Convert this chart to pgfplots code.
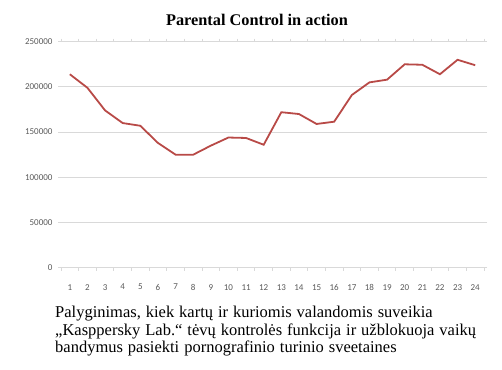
\documentclass[border=0pt]{standalone}
\usepackage{fontspec}
\setmainfont{Liberation Serif}
\newfontfamily\tickfont{Carlito}
\usepackage{pgfplots}
\pgfplotsset{compat=1.18}
\definecolor{linered}{HTML}{B84A47}
\definecolor{gridgray}{HTML}{D9D9D9}
\definecolor{ticktext}{HTML}{595959}
\newcommand\capfont{\fontsize{16.5bp}{17.5bp}\selectfont\spaceskip=0.3em\relax}
\begin{document}
\begin{tikzpicture}
\path[use as bounding box] (0,0) rectangle (502bp,370bp);
\begin{axis}[
  at={(61bp,102.3bp)}, anchor=south west,
  scale only axis, width=423bp, height=226bp,
  xmin=0.5, xmax=24.5, ymin=0, ymax=250000,
  xtick={1,...,24},
  minor xtick={0.5,1.5,...,24.5},
  ytick={0,50000,...,250000},
  scaled y ticks=false,
  /pgf/number format/assume math mode=true,
  yticklabel={\pgfmathprintnumber[fixed,1000 sep={}]{\tick}},
  tick label style={font=\tickfont\fontsize{9bp}{10bp}\selectfont, text=ticktext},
  axis line style={draw=none},
  ymajorgrids, grid style={gridgray, line width=0.8bp},
  major x tick style={draw=none},
  minor x tick style={gridgray, line width=0.8bp},
  ytick style={gridgray, line width=0.8bp},
  tick align=outside, major tick length=3bp, minor tick length=3bp,
  xticklabel style={yshift=-10bp},
  yticklabel style={xshift=-2bp},
  clip=false,
]
\draw[gridgray, line width=0.8bp] (axis cs:0.5,0) -- (axis cs:24.5,0);
\addplot[linered, line width=1.8bp, mark=none] coordinates {
(1,214000) (2,199000) (3,174000) (4,160000) (5,157000) (6,138000)
(7,125000) (8,125000) (9,135000) (10,144000) (11,143500) (12,136000)
(13,172000) (14,170000) (15,159000) (16,161500) (17,191000) (18,205000)
(19,208000) (20,225000) (21,224500) (22,214000) (23,230000) (24,224000)
};
\end{axis}
\node[font=\bfseries\fontsize{16.3bp}{18bp}\selectfont] at (257bp,350bp) {Parental Control in action};
\node[anchor=north west, align=left, font=\capfont, inner sep=0pt] at (55bp,64bp)
{Palyginimas, kiek kartų ir kuriomis valandomis suveikia\\
„Kasppersky Lab.“ tėvų kontrolės funkcija ir užblokuoja vaikų\\
bandymus pasiekti pornografinio turinio sveetaines};
\end{tikzpicture}
\end{document}
